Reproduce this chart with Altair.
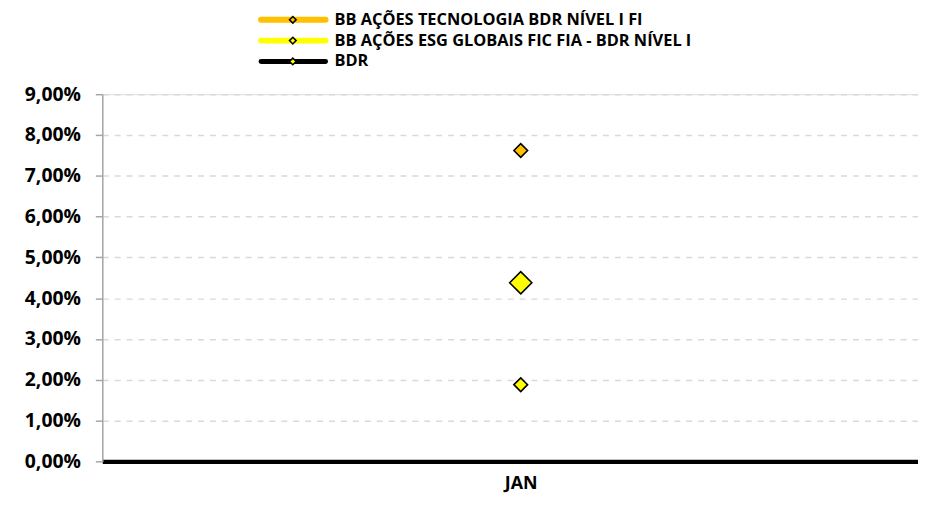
import altair as alt
import pandas as pd

series = ["BB AÇÕES TECNOLOGIA BDR NÍVEL I FI",
          "BB AÇÕES ESG GLOBAIS FIC FIA - BDR NÍVEL I",
          "BDR"]
months = ["JAN"]
values = [0.0762, 0.0188, 0.0438]
line_colors = ["#FFC000", "#FFFF00", "#000000"]
marker_fills = ["#FFC000", "#FFFF00", "#FFFF00"]
marker_sizes = [190, 190, 500]

FONT = "Open Sans"

df = pd.DataFrame({
    "serie": series,
    "mes": [months[0]] * len(series),
    "valor": values,
    "tamanho": marker_sizes,
})

points = alt.Chart(df).mark_point(
    shape="diamond", filled=True, stroke="black", strokeWidth=1.6, opacity=1
).encode(
    x=alt.X("mes:N", sort=months, title=None,
            scale=alt.Scale(type="point", padding=0.5, align=0.513),
            axis=alt.Axis(domainColor="black", domainWidth=4.5, ticks=False,
                          labelAngle=0, labelFont=FONT, labelFontSize=18,
                          labelFontWeight="bold", labelColor="black",
                          labelPadding=13, grid=False)),
    y=alt.Y("valor:Q", title=None,
            scale=alt.Scale(domain=[0, 0.09], nice=False),
            axis=alt.Axis(values=[i / 100 for i in range(10)],
                          labelExpr="replace(format(datum.value*100, '.2f'), '.', ',') + '%'",
                          labelFont=FONT, labelFontSize=19.5, labelFontWeight="bold",
                          labelColor="black", labelPadding=15,
                          domainColor="#a6a6a6", domainWidth=1.5,
                          tickColor="#a6a6a6", tickSize=7, tickWidth=1.5,
                          grid=True, gridColor="#d9d9d9", gridDash=[6, 6],
                          gridWidth=1.5)),
    fill=alt.Fill("serie:N", sort=series,
                  scale=alt.Scale(domain=series, range=marker_fills), legend=None),
    size=alt.Size("tamanho:Q", scale=None, legend=None),
)

layers = [points]
row_y = [-75, -54, -33]
for i, s in enumerate(series):
    ld = pd.DataFrame({"serie": [s]})
    width = 6 if i < 2 else 5
    layers.append(alt.Chart(ld).mark_rule(
        color=line_colors[i], strokeWidth=width, strokeCap="round"
    ).encode(x=alt.value(160), x2=alt.value(225), y=alt.value(row_y[i])))
    layers.append(alt.Chart(ld).mark_point(
        shape="diamond", filled=True, fill=marker_fills[i], stroke="black",
        strokeWidth=1.5, size=45, opacity=1
    ).encode(x=alt.value(192), y=alt.value(row_y[i])))
    layers.append(alt.Chart(ld).mark_text(
        align="left", baseline="middle", font=FONT, fontSize=16.5,
        fontWeight="bold", color="black"
    ).encode(x=alt.value(234), y=alt.value(row_y[i]), text="serie:N"))

chart = alt.layer(*layers).properties(
    width=822, height=370,
    padding={"left": 16, "top": 2, "right": 0, "bottom": 0},
).configure_view(stroke=None).configure(background="white")

chart.save("out.html", embed_options={"renderer": "svg", "actions": False})
